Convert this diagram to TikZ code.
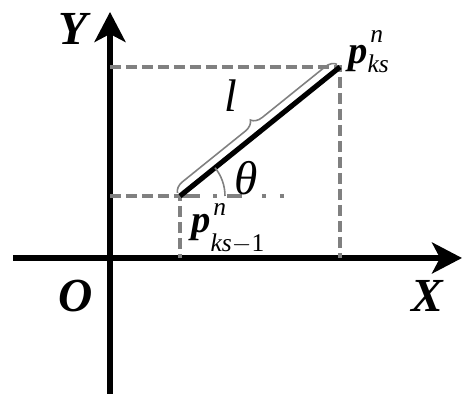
\documentclass[tikz,border=0pt]{standalone}
\usepackage{fontspec}
\setmainfont{Liberation Serif}
\newfontfamily\tnr{Liberation Serif}
\usetikzlibrary{arrows.meta,decorations.pathreplacing}

\newcommand{\scr}{\fontsize{14.5}{14.5}\selectfont}
% p with superscript n, raised #1, and subscript #3, lowered #2
\newcommand{\pvar}[3]{{\bfseries\itshape p}\kern1.5pt\rlap{\raisebox{#1}{\scr\itshape n}}\kern-1.5pt\raisebox{-#2}{\scr #3}}

\tikzset{
  axis/.style={line width=2.9pt, -{Stealth[length=0.6cm,width=0.62cm,inset=0.16cm]}},
  guide/.style={gray, line width=2.2pt, dash pattern=on 0.22cm off 0.1cm},
  axislabel/.style={font=\fontsize{27}{27}\tnr\bfseries\itshape},
  ptlabel/.style={font=\fontsize{22}{22}\tnr, inner sep=0pt}
}

\begin{document}
\begin{tikzpicture}[x=0.02cm, y=0.02cm]
        \useasboundingbox (0,0) rectangle (474,404);

        % axes
        \coordinate (ybot) at (110,10);
        \coordinate (ytop) at (110,392);
        \coordinate (xleft) at (13,146);
        \coordinate (xright) at (462,146);
        \draw[axis] (ybot) -- (ytop);
        \draw[axis] (xleft) -- (xright);
        \node[axislabel] (ylab) at (73,375) {Y};
        \node[axislabel] (olab) at (76,108) {O};
        \node[axislabel] (xlab) at (427,108) {X};

        % points and projections
        \coordinate (A) at (180,208);
        \coordinate (B) at (340,337);
        \coordinate (Ay) at (110,208);
        \coordinate (Ax) at (180,146);
        \coordinate (By) at (110,337);
        \coordinate (Bx) at (340,146);
        \coordinate (Aend) at (284,208);
        \draw[guide] (By) -- (B) -- (Bx);
        \draw[guide] (Ay) -- (A) -- (Ax);
        \draw[gray, line width=2.2pt, dash pattern=on 0.4cm off 0.26cm on 0.08cm off 0.2cm on 0.3cm off 0.4cm on 0.08cm off 0.28cm on 0.08cm] (A) -- (Aend);

        % segment, brace and angle
        \draw[line width=2.9pt] (A) -- (B);
        \draw[gray, line width=0.9pt, decorate,
              decoration={brace, amplitude=0.22cm, raise=0.08cm}] (A) -- (B);
        \draw[gray, line width=0.9pt] (A) ++(0:45) arc[start angle=0, end angle=38.9, radius=45];

        \node[ptlabel, font=\fontsize{26}{26}\tnr] (len) at (231,308) {\itshape l};
        \node[ptlabel, font=\fontsize{27}{27}\tnr] (ang) at (246,226) {\itshape θ};
        \node[ptlabel, anchor=base west] (pB) at (348,340) {\pvar{12pt}{5pt}{\itshape ks}};
        \node[ptlabel, anchor=base west] (pA) at (191,171) {\pvar{10pt}{10.5pt}{\itshape ks\upshape$-$1}};
\end{tikzpicture}
\end{document}
